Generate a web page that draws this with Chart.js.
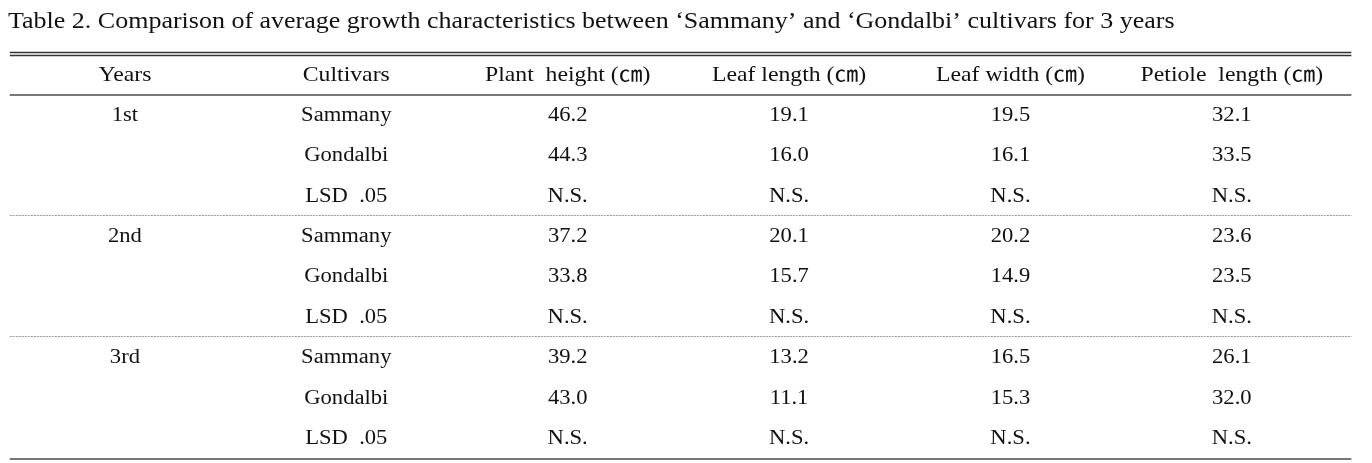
<!DOCTYPE html>
<html>
<head>
<meta charset="utf-8">
<script src="https://cdn.jsdelivr.net/npm/chart.js@4.4.1/dist/chart.umd.min.js"></script>
<style>
  html, body { margin: 0; padding: 0; background: #fff; }
  #wrap { width: 1372px; height: 463px; }
</style>
</head>
<body>
<div id="wrap"><canvas id="myChart"></canvas></div>
<script>
// table content
const title = "Table 2. Comparison of average growth characteristics between \u2018Sammany\u2019 and \u2018Gondalbi\u2019 cultivars for 3 years";
const headers = ["Years", "Cultivars", "Plant  height (\u339D)", "Leaf length (\u339D)", "Leaf width (\u339D)", "Petiole  length (\u339D)"];
const years = ["1st", "", "", "2nd", "", "", "3rd", "", ""];
const cultivars = ["Sammany", "Gondalbi", "LSD  .05", "Sammany", "Gondalbi", "LSD  .05", "Sammany", "Gondalbi", "LSD  .05"];
const plantHeight = ["46.2", "44.3", "N.S.", "37.2", "33.8", "N.S.", "39.2", "43.0", "N.S."];
const leafLength = ["19.1", "16.0", "N.S.", "20.1", "15.7", "N.S.", "13.2", "11.1", "N.S."];
const leafWidth = ["19.5", "16.1", "N.S.", "20.2", "14.9", "N.S.", "16.5", "15.3", "N.S."];
const petioleLength = ["32.1", "33.5", "N.S.", "23.6", "23.5", "N.S.", "26.1", "32.0", "N.S."];

const columns = [years, cultivars, plantHeight, leafLength, leafWidth, petioleLength];
const groupBreaks = [3.45, 6.45]; // dotted lines between year groups

const FONT = "'Liberation Serif', 'Noto Sans CJK KR', serif";
const STRETCH = 1.13;

// one dataset per column, header is row 0
const datasets = columns.map((col, c) => ({
  label: headers[c],
  data: [{x: c, y: 0, t: headers[c]}].concat(col.map((t, r) => ({x: c, y: r + 1, t}))),
  pointRadius: 0,
  pointHoverRadius: 0
}));

function stretchText(ctx, text, x, y, align) {
  ctx.save();
  ctx.translate(x, y);
  ctx.scale(STRETCH, 1);
  ctx.textAlign = align;
  ctx.fillText(text, 0, 0);
  ctx.restore();
}

const tablePlugin = {
  id: "tableDraw",
  afterDatasetsDraw(chart) {
    const ctx = chart.ctx;
    const xs = chart.scales.x, ys = chart.scales.y;
    const left = xs.getPixelForValue(-0.52), right = xs.getPixelForValue(5.54);

    ctx.save();
    // title
    ctx.fillStyle = "#111";
    ctx.font = "23px " + FONT;
    ctx.textBaseline = "middle";
    stretchText(ctx, title, 8, 22, "left");

    // rules
    ctx.strokeStyle = "#333";
    ctx.lineWidth = 1.5;
    [-0.58, -0.5].forEach(v => {
      const y = Math.round(ys.getPixelForValue(v)) + 0.5;
      ctx.beginPath(); ctx.moveTo(left, y); ctx.lineTo(right, y); ctx.stroke();
    });
    ctx.strokeStyle = "#777";
    ctx.lineWidth = 2;
    [0.5, 9.5].forEach(v => {
      const y = Math.round(ys.getPixelForValue(v));
      ctx.beginPath(); ctx.moveTo(left, y); ctx.lineTo(right, y); ctx.stroke();
    });
    ctx.strokeStyle = "#999";
    ctx.lineWidth = 1;
    ctx.setLineDash([2, 1]);
    groupBreaks.forEach(v => {
      const y = Math.round(ys.getPixelForValue(v)) + 0.5;
      ctx.beginPath(); ctx.moveTo(left, y); ctx.lineTo(right, y); ctx.stroke();
    });
    ctx.setLineDash([]);

    // cells
    ctx.fillStyle = "#111";
    ctx.textBaseline = "middle";
    chart.data.datasets.forEach((ds, i) => {
      const meta = chart.getDatasetMeta(i);
      meta.data.forEach((pt, j) => {
        const t = ds.data[j].t;
        if (!t) return;
        ctx.font = (ds.data[j].y === 0 ? "21px " : "20px ") + FONT;
        stretchText(ctx, t, pt.x, pt.y, "center");
      });
    });
    ctx.restore();
  }
};

function draw() {
  new Chart(document.getElementById("myChart"), {
    type: "scatter",
    data: {datasets},
    options: {
      responsive: true,
      maintainAspectRatio: false,
      animation: false,
      layout: {padding: {left: 8, right: 8, top: 0, bottom: 0}},
      scales: {
        x: {type: "linear", min: -0.528, max: 5.597, display: false},
        y: {type: "linear", min: -1.86, max: 9.6, reverse: true, display: false}
      },
      plugins: {
        legend: {display: false},
        tooltip: {enabled: false},
        title: {display: false}
      }
    },
    plugins: [tablePlugin]
  });
}

Promise.all([
  document.fonts.load("20px 'Liberation Serif'"),
  document.fonts.load("20px 'Noto Sans CJK KR'", "\u339D")
]).then(draw, draw);
</script>
</body>
</html>
